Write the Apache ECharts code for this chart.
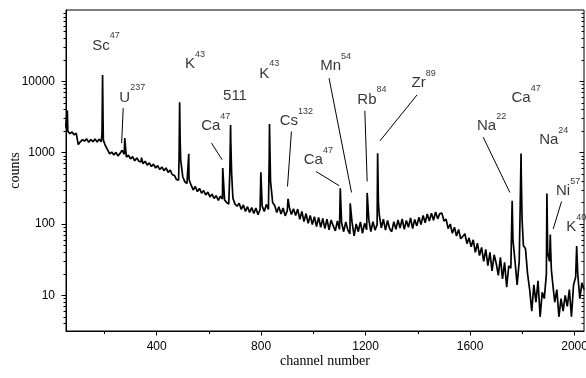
<!DOCTYPE html>
<html>
<head>
<meta charset="utf-8">
<script src="https://cdn.jsdelivr.net/npm/echarts@6/dist/echarts.min.js"></script>
<style>
  html, body { margin: 0; padding: 0; background: #fff; }
  #chart { width: 586px; height: 378px; }
</style>
</head>
<body>
<div id="chart"></div>
<script>
// background counts, one reading every CH_STEP channels starting at CH_START
var CH_START = 52, CH_STEP = 8;
var background = [
  2250, 2000, 1850, 1950, 1780, 1880, 1300, 1420, 1520, 1450,
  1560, 1400, 1530, 1420, 1560, 1410, 1540, 1430, 1500, 1250,
  1100, 960, 1020, 930, 1010, 900, 980, 1080, 950, 870,
  920, 820, 880, 770, 840, 760, 740, 700, 760, 670,
  720, 640, 690, 610, 660, 580, 630, 560, 610, 530,
  570, 490, 480, 420, 410, 800, 460, 390, 370, 420,
  350, 300, 335, 285, 315, 270, 295, 255, 280, 240,
  262, 228, 250, 215, 245, 225, 218, 200, 190, 1400,
  230, 190, 178, 195, 160, 185, 150, 175, 145, 170,
  140, 168, 135, 160, 178, 150, 188, 160, 400, 200,
  182, 145, 175, 138, 168, 130, 152, 172, 136, 164,
  132, 162, 116, 150, 108, 140, 102, 132, 98, 127,
  92, 124, 90, 120, 86, 117, 83, 114, 94, 80,
  110, 84, 104, 78, 107, 82, 73, 106, 68, 100,
  78, 107, 74, 102, 83, 117, 78, 108, 82, 98,
  137, 88, 117, 82, 112, 86, 78, 108, 84, 114,
  88, 118, 84, 112, 90, 122, 86, 116, 94, 124,
  98, 132, 104, 138, 110, 142, 113, 147, 118, 140,
  142, 110, 117, 86, 100, 74, 90, 68, 84, 62,
  67, 73, 53, 64, 48, 60, 40, 54, 36, 47,
  30, 44, 26, 40, 22, 37, 28, 19, 34, 17,
  29, 13, 26, 24, 60, 30, 14, 30, 450, 50,
  45, 20, 12, 6, 14, 8, 16, 5, 11, 9,
  20, 35, 50, 15, 8, 12, 5, 9, 6, 10,
  7, 12, 5, 14, 18, 20, 9, 15, 12
];

// narrow peaks [channel, counts]
var peaks = [
  [58, 3900],
  [191, 1900], [193, 12300], [195, 2600],
  [278, 1600],
  [342, 850],
  [486, 900], [488, 5080], [490, 1500],
  [523, 965],
  [653, 610],
  [680, 500], [683, 2450], [687, 520],
  [799, 530],
  [831, 900], [832, 2530], [834, 1000],
  [903, 225],
  [1103, 318],
  [1141, 195],
  [1206, 273],
  [1246, 980], [1249, 200],
  [1761, 211],
  [1792, 200], [1795, 970], [1799, 115],
  [1894, 267], [1897, 40], [1904, 30], [1907, 71], [1911, 23],
  [2008, 49]
];

// peak labels: element, mass number, channel, counts of the text centre
var labelNames  = ['Sc', 'U', 'K', '511', 'K', 'Ca', 'Cs', 'Ca', 'Mn', 'Rb', 'Zr', 'Na', 'Ca', 'Na', 'Ni', 'K'];
var labelMasses = ['47', '237', '43', '', '43', '47', '132', '47', '54', '84', '89', '22', '47', '24', '57', '40'];
var labelCh     = [187, 278, 528, 700, 812, 607, 906, 1000, 1066, 1205, 1403, 1663, 1795, 1901, 1956, 1987];
var labelCounts = [31800, 5960, 17540, 6350, 12900, 2340, 2790, 794, 16290, 5585, 9570, 2392, 5900, 1500, 294, 91];

// leader lines: [ch1, counts1, ch2, counts2]
var leaders = [
  [272, 4205, 266, 1361],
  [610, 1361, 651, 794],
  [916, 1978, 901, 336],
  [1010, 545, 1099, 344],
  [1060, 11070, 1146, 277],
  [1197, 3855, 1206, 395],
  [1397, 6457, 1255, 1466],
  [1650, 1652, 1752, 277],
  [1950, 207, 1918, 85]
];

var xLabels = [400, 800, 1200, 1600, 2000];
var xMinorTicks = [200, 600, 1000, 1400, 1800];
var yLabels = [10, 100, 1000, 10000];
var yMinorTicks = [];
[1, 10, 100, 1000, 10000].forEach(function (d) {
  for (var k = 2; k <= 9; k++) {
    if (d * k > 3.2) yMinorTicks.push(d * k);
  }
});

var spectrum = background.map(function (c, i) {
  return [CH_START + i * CH_STEP, c];
}).concat(peaks).sort(function (a, b) { return a[0] - b[0]; });

var SANS = 'Liberation Sans';
var SERIF = 'Liberation Serif';

var ctx = document.createElement('canvas').getContext('2d');
ctx.font = '15px "Liberation Sans"';

var nameData = [], massData = [];
labelNames.forEach(function (n, i) {
  nameData.push({ name: n, value: [labelCh[i], labelCounts[i]] });
  if (labelMasses[i]) {
    var w = ctx.measureText(n).width;
    // superscript sits just right of the element symbol, raised
    massData.push({
      name: labelMasses[i],
      value: [labelCh[i], labelCounts[i]],
      label: { position: [w / 2 + 0.5, -9] }
    });
  }
});

var leaderData = leaders.map(function (l) {
  return [{ coord: [l[0], l[1]] }, { coord: [l[2], l[3]] }];
});

var gridBox = { left: 66, right: 2, top: 10, bottom: 47, outerBoundsMode: 'none', containLabel: false };
var black = { color: '#000', width: 1 };
var plain = function (v) { return String(Math.round(v)); };

function xAx(grid, ticks, len, withLabels) {
  return {
    type: 'value', gridIndex: grid, min: 53, max: 2036, position: 'bottom',
    axisLine: { show: withLabels, lineStyle: black },
    axisTick: { show: true, customValues: ticks, length: len, lineStyle: black },
    axisLabel: withLabels ? {
      customValues: xLabels, color: '#000', fontFamily: SANS, fontSize: 12, margin: 10,
      formatter: plain
    } : { show: false },
    splitLine: { show: false },
    name: withLabels ? 'channel number' : '',
    nameLocation: 'middle', nameGap: 23, nameMoveOverlap: false,
    nameTextStyle: { fontFamily: SERIF, fontSize: 14, color: '#000' }
  };
}

function yAx(grid, pos, ticks, len, withLabels) {
  return {
    type: 'log', logBase: 10, gridIndex: grid, min: 3.1623, max: 100000, position: pos,
    axisLine: { show: withLabels, lineStyle: black },
    axisTick: { show: true, inside: pos === 'right', customValues: ticks, length: len, lineStyle: black },
    axisLabel: withLabels ? {
      customValues: yLabels, color: '#000', fontFamily: SANS, fontSize: 12, margin: 11,
      formatter: plain
    } : { show: false },
    splitLine: { show: false },
    minorTick: { show: false },
    name: withLabels ? 'counts' : '',
    nameLocation: 'middle', nameGap: 44, nameRotate: 90, nameMoveOverlap: false,
    nameTextStyle: { fontFamily: SERIF, fontSize: 14, color: '#000' }
  };
}

var chart = echarts.init(document.getElementById('chart'), null, { renderer: 'canvas' });

chart.setOption({
  animation: false,
  backgroundColor: '#fff',
  grid: [
    Object.assign({ show: true, borderColor: '#000', borderWidth: 1 }, gridBox),
    Object.assign({ show: false }, gridBox)
  ],
  xAxis: [
    xAx(0, xLabels, 4.5, true),
    xAx(1, xMinorTicks, 3, false)
  ],
  yAxis: [
    yAx(0, 'left', yLabels, 4.5, true),
    yAx(0, 'right', yLabels, 4.5, false),
    yAx(1, 'left', yMinorTicks, 2.5, false),
    yAx(1, 'right', yMinorTicks, 2.5, false)
  ],
  series: [
    {
      name: 'spectrum', type: 'line', xAxisIndex: 0, yAxisIndex: 0,
      data: spectrum, showSymbol: false, clip: true,
      lineStyle: { color: '#000', width: 1.7 },
      markLine: {
        silent: true, symbol: ['none', 'none'],
        label: { show: false },
        lineStyle: { color: '#000', width: 1, type: 'solid' },
        data: leaderData
      }
    },
    {
      name: 'element', type: 'scatter', xAxisIndex: 0, yAxisIndex: 0,
      symbolSize: 1, itemStyle: { color: 'rgba(0,0,0,0)' }, silent: true,
      data: nameData,
      label: {
        show: true, position: 'inside', formatter: '{b}',
        color: '#000', fontFamily: SANS, fontSize: 15
      },
      labelLayout: { hideOverlap: false }
    },
    {
      name: 'mass', type: 'scatter', xAxisIndex: 0, yAxisIndex: 0,
      symbolSize: 1, itemStyle: { color: 'rgba(0,0,0,0)' }, silent: true,
      data: massData,
      label: {
        show: true, align: 'left', verticalAlign: 'middle', formatter: '{b}',
        color: '#000', fontFamily: SANS, fontSize: 9
      },
      labelLayout: { hideOverlap: false }
    }
  ]
});
</script>
</body>
</html>
